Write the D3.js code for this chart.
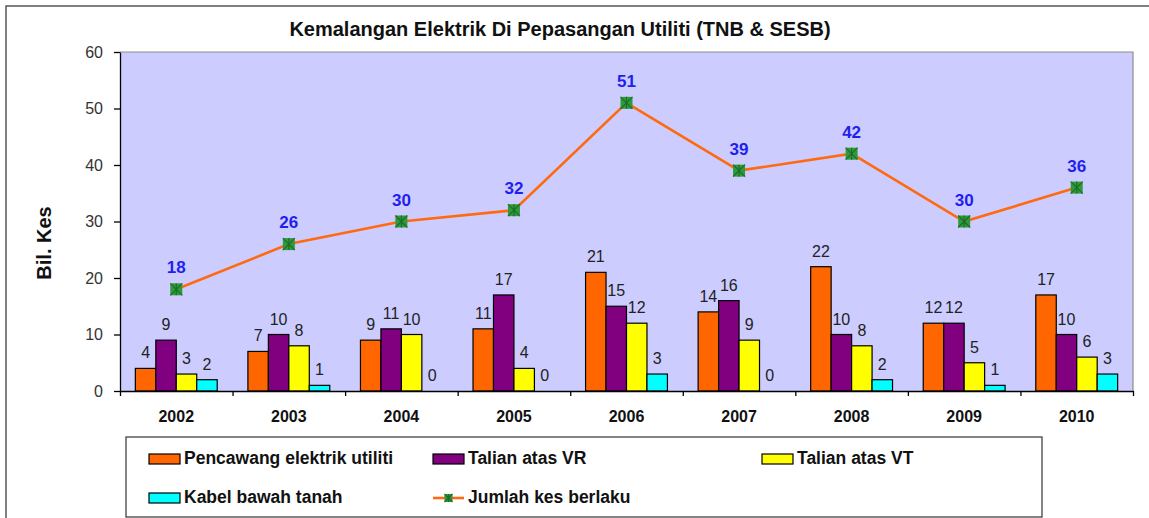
<!DOCTYPE html>
<html>
<head>
<meta charset="utf-8">
<script src="https://cdn.jsdelivr.net/npm/d3@7"></script>
<style>
  html, body { margin: 0; padding: 0; background: #fff; }
  svg { display: block; font-family: "Liberation Sans", Arial, sans-serif; }
</style>
</head>
<body>
<svg id="chart" width="1149" height="518"></svg>
<script>
// ---- data ----
const years = ["2002", "2003", "2004", "2005", "2006", "2007", "2008", "2009", "2010"];
const seriesNames = ["Pencawang elektrik utiliti", "Talian atas VR", "Talian atas VT", "Kabel bawah tanah"];
const pencawang = [4, 7, 9, 11, 21, 14, 22, 12, 17];
const talianVR = [9, 10, 11, 17, 15, 16, 10, 12, 10];
const talianVT = [3, 8, 10, 4, 12, 9, 8, 5, 6];
const kabel = [2, 1, 0, 0, 3, 0, 2, 1, 3];
const lineName = "Jumlah kes berlaku";
const jumlah = [18, 26, 30, 32, 51, 39, 42, 30, 36];
const yTicks = [0, 10, 20, 30, 40, 50, 60];
const title = "Kemalangan Elektrik Di Pepasangan Utiliti (TNB & SESB)";
const yTitle = "Bil. Kes";

const barSeries = [pencawang, talianVR, talianVT, kabel];
const barColors = ["#ff6600", "#800080", "#ffff00", "#00ffff"];

// ---- layout ----
const svg = d3.select("#chart");
const L = 120, R = 1133, T = 52, B = 391;

// outer frame
svg.append("rect").attr("x", 6).attr("y", 6).attr("width", 1160).attr("height", 530)
  .attr("fill", "#fff").attr("stroke", "#555").attr("stroke-width", 1.5);

// title
svg.append("text").attr("x", 560).attr("y", 36).attr("text-anchor", "middle")
  .attr("font-size", 20).attr("font-weight", "bold").attr("fill", "#111").text(title);

const x = d3.scaleBand().domain(years).range([L, R]).paddingInner(0).paddingOuter(0);
const xs = d3.scaleBand().domain(d3.range(barSeries.length)).range([0, x.bandwidth()])
  .paddingInner(0).paddingOuter(0.75);
const y = d3.scaleLinear().domain([0, 60]).range([B, T]);

// plot background
svg.append("rect").attr("x", L).attr("y", T).attr("width", R - L).attr("height", B - T)
  .attr("fill", "#ccccff");
svg.append("path").attr("d", `M${L},${T}H${R}V${B}`).attr("fill", "none")
  .attr("stroke", "#8c8c8c").attr("stroke-width", 1.2);

// bars
barSeries.forEach((vals, si) => {
  svg.append("g").selectAll("rect").data(vals).join("rect")
    .attr("x", (d, i) => x(years[i]) + xs(si))
    .attr("y", d => y(d))
    .attr("width", xs.bandwidth())
    .attr("height", d => y(0) - y(d))
    .attr("fill", barColors[si])
    .attr("stroke", "#000").attr("stroke-width", 1.2);
});

// bar labels
barSeries.forEach((vals, si) => {
  svg.append("g").selectAll("text").data(vals).join("text")
    .attr("x", (d, i) => x(years[i]) + xs(si) + xs.bandwidth() / 2)
    .attr("y", d => y(d) - 10)
    .attr("text-anchor", "middle").attr("font-size", 16).attr("fill", "#222")
    .text(d => d);
});

// axes
const yAxis = d3.axisLeft(y).tickValues(yTicks).tickSize(6).tickSizeOuter(0).tickPadding(11);
const gy = svg.append("g").attr("transform", `translate(${L},0)`).call(yAxis);
gy.select(".domain").attr("stroke", "#000").attr("stroke-width", 1.3);
gy.selectAll(".tick line").attr("stroke", "#000").attr("stroke-width", 1.3);
gy.selectAll(".tick text").attr("font-size", 16).attr("fill", "#333")
  .attr("font-family", "Liberation Sans, Arial, sans-serif");

const xb = d3.scaleLinear().domain([0, years.length]).range([L, R]);
const xAxis = d3.axisBottom(xb).tickValues(d3.range(years.length + 1)).tickSize(5)
  .tickSizeOuter(0).tickFormat("");
const gx = svg.append("g").attr("transform", `translate(0,${B})`).call(xAxis);
gx.select(".domain").attr("stroke", "#000").attr("stroke-width", 1.3);
gx.selectAll(".tick line").attr("stroke", "#000").attr("stroke-width", 1.3);

svg.append("g").selectAll("text").data(years).join("text")
  .attr("x", d => x(d) + x.bandwidth() / 2).attr("y", 422)
  .attr("text-anchor", "middle").attr("font-size", 16).attr("font-weight", "bold")
  .attr("fill", "#111").text(d => d);

// y title
svg.append("text").attr("transform", `translate(51,243) rotate(-90)`)
  .attr("text-anchor", "middle").attr("font-size", 20).attr("font-weight", "bold")
  .attr("fill", "#111").text(yTitle);

// line
const cx = (d, i) => x(years[i]) + x.bandwidth() / 2;
const line = d3.line().x(cx).y(d => y(d));
svg.append("path").datum(jumlah).attr("d", line).attr("fill", "none")
  .attr("stroke", "#ff6a10").attr("stroke-width", 2.6);

function marker(g, s) {
  const h = s / 2;
  g.append("rect").attr("x", -h).attr("y", -h).attr("width", s).attr("height", s)
    .attr("fill", "#2f9a3c");
  g.append("path").attr("d", `M${-h},${-h}L${h},${h}M${h},${-h}L${-h},${h}M0,${-h}V${h}`)
    .attr("stroke", "#1d6b28").attr("stroke-width", 1.1);
}
jumlah.forEach((d, i) => {
  const g = svg.append("g").attr("transform", `translate(${cx(d, i)},${y(d)})`);
  marker(g, 12);
});
svg.append("g").selectAll("text").data(jumlah).join("text")
  .attr("x", cx).attr("y", d => y(d) - 16)
  .attr("text-anchor", "middle").attr("font-size", 17).attr("font-weight", "bold")
  .attr("fill", "#1f1fee").text(d => d);

// legend
svg.append("rect").attr("x", 126).attr("y", 437).attr("width", 916).attr("height", 80)
  .attr("fill", "#fff").attr("stroke", "#333").attr("stroke-width", 1.2);
const legendItems = [
  { name: seriesNames[0], color: barColors[0], sx: 149, ty: 464 },
  { name: seriesNames[1], color: barColors[1], sx: 433, ty: 464 },
  { name: seriesNames[2], color: barColors[2], sx: 762, ty: 464 },
  { name: seriesNames[3], color: barColors[3], sx: 149, ty: 503 },
];
legendItems.forEach(it => {
  svg.append("rect").attr("x", it.sx).attr("y", it.ty - 10).attr("width", 31).attr("height", 10)
    .attr("fill", it.color).attr("stroke", "#000").attr("stroke-width", 1.2);
  svg.append("text").attr("x", it.sx + 35).attr("y", it.ty).attr("font-size", 17.5)
    .attr("font-weight", "bold").attr("fill", "#111").text(it.name);
});
svg.append("line").attr("x1", 433).attr("x2", 464).attr("y1", 498).attr("y2", 498)
  .attr("stroke", "#ff6a10").attr("stroke-width", 2.6);
marker(svg.append("g").attr("transform", "translate(448.5,498)"), 8);
svg.append("text").attr("x", 468).attr("y", 503).attr("font-size", 17.5)
  .attr("font-weight", "bold").attr("fill", "#111").text(lineName);
</script>
</body>
</html>
